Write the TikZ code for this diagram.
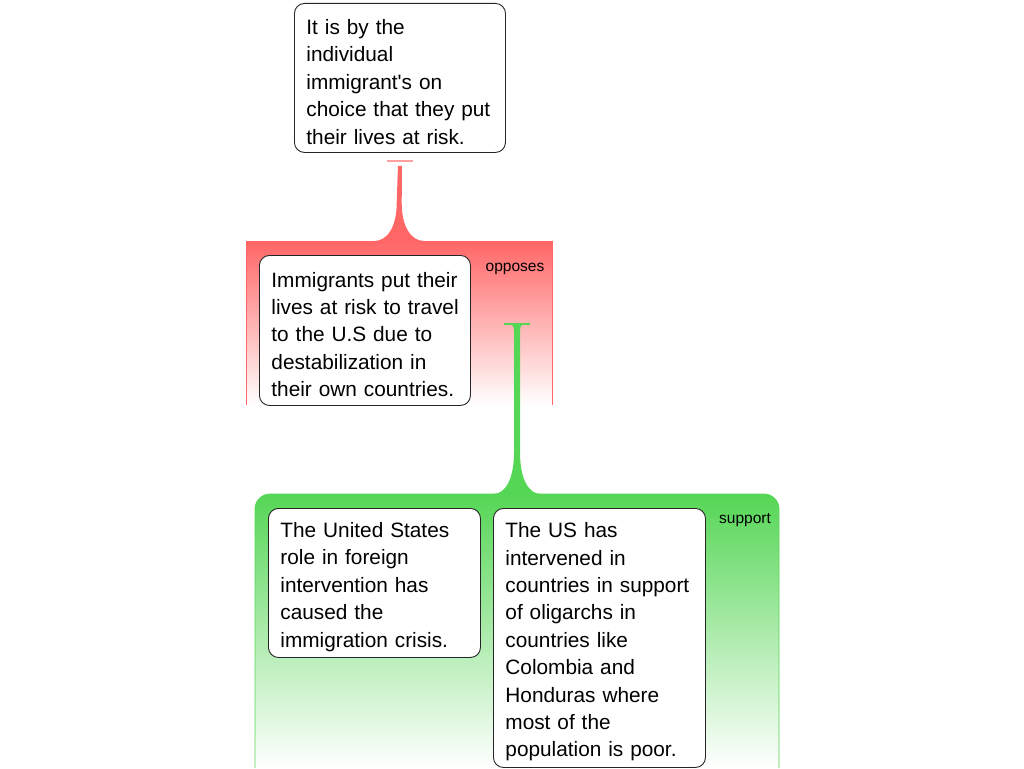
\documentclass[tikz,border=0pt]{standalone}
\usepackage{fontspec}
\setmainfont{Liberation Sans}[Ligatures=TeXOff]
\usetikzlibrary{calc}
\definecolor{oppred}{RGB}{255,102,102}
\definecolor{oppbar}{RGB}{255,160,160}
\definecolor{supgreen}{RGB}{85,214,85}
\begin{document}
\begin{tikzpicture}[x=1pt,y=1pt,
  claim/.style={draw=black!85, line width=0.9pt, rounded corners=10pt, fill=white,
    anchor=north west, text width=199pt, inner xsep=6pt, inner ysep=0pt,
    align=left, font=\fontsize{20.8}{27.4}\selectfont,
    execute at begin node={\leftskip=6pt\hyphenpenalty=10000\relax\rule{0pt}{23pt}}},
  rel/.style={font=\fontsize{15.5}{18}\selectfont, inner sep=0pt}]
\useasboundingbox (0,0) rectangle (1024,-768);
% opposes band
\node[anchor=north west, minimum width=306pt, minimum height=164pt, inner sep=0pt,
  top color=oppred, bottom color=white] (opp) at (246,-241) {};
\draw[oppred, line width=0.8pt] (opp.south west) -- (opp.north west) -- (opp.north east) -- (opp.south east);
% support band
\coordinate (sup) at (517,-494);
\shade[top color=supgreen, bottom color=white] (255,-768) [rounded corners=15pt] -- (255,-494) -- (779,-494) -- (779,-560) [sharp corners] -- (779,-768) -- cycle;
\draw[supgreen, line width=0.8pt] (255,-768) [rounded corners=15pt] -- (255,-494) -- (779,-494) -- (779,-560) [sharp corners] -- (779,-768);
% claims
\node[claim, minimum height=149pt] (t1) at (294,-3) {It is by the\\individual\\immigrant's on\\choice that they put\\their lives at risk.};
\node[claim, minimum height=150pt] (t2) at (259,-255) {Immigrants put their\\lives at risk to travel\\to the U.S due to\\destabilization in\\their own countries.};
\node[claim, minimum height=149pt, text width=200pt] (g1) at (268,-508) {The United States\\role in foreign\\intervention has\\caused the\\immigration crisis.};
\node[claim, minimum height=259pt, text width=200pt] (g2) at (493,-508) {The US has\\intervened in\\countries in support\\of oligarchs in\\countries like\\Colombia and\\Honduras where\\most of the\\population is poor.};
\node[rel] (lopp) at (515,-269) {opposes};
\node[rel] (lsup) at (745,-520.5) {support};
% opposes connector
\fill[oppbar] ($(t1.south)+(-13,-7.5)$) rectangle ($(t1.south)+(13,-9)$);
\fill[oppred] ($(t1.south)+(-2,-13)$) -- ($(opp.north)+(-2.5,38)$)
  .. controls ($(opp.north)+(-2.5,14)$) and ($(opp.north)+(-12,0)$) .. ($(opp.north)+(-25,0)$)
  -- ($(opp.north)+(25,0)$)
  .. controls ($(opp.north)+(12,0)$) and ($(opp.north)+(2.5,14)$) .. ($(opp.north)+(2.5,38)$)
  -- ($(t1.south)+(2,-13)$) -- cycle;
% support connector
\coordinate (gtop) at (517,-323.5);
\fill[supgreen] ($(gtop)+(-13,1)$) rectangle ($(gtop)+(13,-1.5)$);
\fill[supgreen] ($(gtop)+(-6,-1)$) .. controls ($(gtop)+(-3,-2)$) and ($(gtop)+(-3,-5)$) .. ($(gtop)+(-3,-12)$)
  -- ($(sup)+(-3,42)$)
  .. controls ($(sup)+(-3,14)$) and ($(sup)+(-12,0)$) .. ($(sup)+(-24,0)$)
  -- ($(sup)+(24,0)$)
  .. controls ($(sup)+(12,0)$) and ($(sup)+(3,14)$) .. ($(sup)+(3,42)$)
  -- ($(gtop)+(3,-12)$) .. controls ($(gtop)+(3,-5)$) and ($(gtop)+(3,-2)$) .. ($(gtop)+(6,-1)$) -- cycle;
\end{tikzpicture}
\end{document}
